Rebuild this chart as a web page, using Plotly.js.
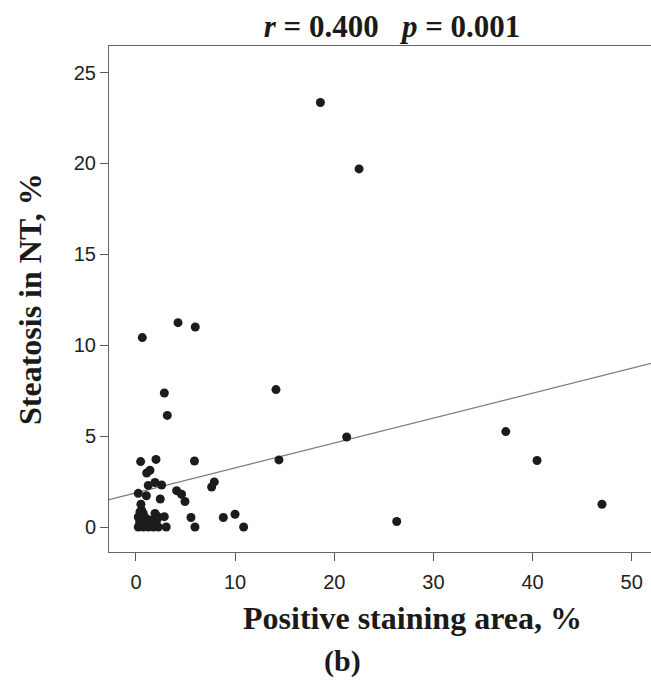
<!DOCTYPE html>
<html>
<head>
<meta charset="utf-8">
<script src="https://cdn.plot.ly/plotly-3.0.1.min.js"></script>
<style>
html, body { margin: 0; padding: 0; overflow: hidden; background: #fff; }
#chart { width: 715px; height: 685px; }
</style>
</head>
<body>
<div id="chart"></div>
<script>
// Positive staining area, %
const stainingArea = [
  18.6, 22.5, 0.64, 4.24, 5.98, 2.86, 3.16, 14.12, 21.25, 14.42,
  37.3, 40.45, 47.0, 26.3,
  0.47, 2.02, 5.9, 1.08, 1.41, 1.24, 1.92, 2.59, 0.23, 1.05,
  2.45, 4.1, 4.6, 4.94, 7.63, 7.9, 0.5, 5.55, 5.95, 8.81,
  9.99, 10.86, 3.05, 2.86, 2.02, 2.09,
  0.23, 0.74, 1.24, 1.75, 2.25, 0.23, 0.74, 1.08, 1.58, 0.57,
  0.91, 0.4, 1.92, 0.37, 1.41, 2.25
];
// Steatosis in NT, %
const steatosis = [
  23.35, 19.7, 10.42, 11.24, 11.0, 7.37, 6.14, 7.56, 4.95, 3.69,
  5.25, 3.66, 1.25, 0.3,
  3.6, 3.72, 3.63, 2.97, 3.12, 2.29, 2.45, 2.31, 1.85, 1.72,
  1.54, 2.0, 1.8, 1.4, 2.2, 2.48, 1.25, 0.52, 0.0, 0.52,
  0.7, 0.0, 0.0, 0.57, 0.64, 0.37,
  0.0, 0.0, 0.0, 0.0, 0.0, 0.55, 0.74, 0.46, 0.37, 0.92,
  0.28, 0.83, 0.74, 0.28, 0.28, 0.55
];
// Fitted regression line
const fitX = [-2.72, 58.4];
const fitY = [1.51, 9.88];

const xTicks = [0, 10, 20, 30, 40, 50];
const yTicks = [0, 5, 10, 15, 20, 25];

const titleText = '<i>r</i> = 0.400\u00a0\u00a0\u00a0<i>p</i> = 0.001';
const xTitle = 'Positive staining area, %';
const yTitle = 'Steatosis in NT, %';
const panelLabel = '(b)';

const serif = '"Liberation Serif", "Times New Roman", serif';
const sans = '"Liberation Sans", Arial, sans-serif';

const data = [
  {
    x: fitX, y: fitY, type: 'scatter', mode: 'lines',
    line: { color: '#7a7a7a', width: 1.2 },
    hoverinfo: 'skip', showlegend: false
  },
  {
    x: stainingArea, y: steatosis, type: 'scatter', mode: 'markers',
    marker: { size: 9, color: '#1c1c1c', line: { width: 0 } },
    showlegend: false
  }
];

const layout = {
  width: 715, height: 685,
  margin: { l: 109, r: 0, t: 46, b: 133 },
  paper_bgcolor: '#ffffff', plot_bgcolor: '#ffffff',
  showlegend: false,
  title: {
    text: titleText,
    font: { family: serif, size: 31, color: '#1a1a1a', weight: 'bold' },
    xref: 'container', x: 392 / 715, xanchor: 'center',
    yref: 'container', y: 1 - 26 / 685, yanchor: 'middle'
  },
  xaxis: {
    range: [-2.72, 58.4],
    tickvals: xTicks, ticktext: xTicks.map(String),
    ticks: 'outside', ticklen: 8, tickwidth: 1, tickcolor: '#555',
    showline: true, linecolor: '#666', linewidth: 1, mirror: true,
    showgrid: false, zeroline: false,
    tickfont: { family: sans, size: 20, color: '#222' },
    ticklabelstandoff: 4
  },
  yaxis: {
    range: [-1.375, 26.46],
    tickvals: yTicks, ticktext: yTicks.map(String),
    ticks: 'outside', ticklen: 8, tickwidth: 1, tickcolor: '#555',
    showline: true, linecolor: '#666', linewidth: 1, mirror: false,
    showgrid: false, zeroline: false,
    tickfont: { family: sans, size: 20, color: '#222' }
  },
  annotations: [
    {
      text: '<b>' + xTitle + '</b>', xref: 'paper', yref: 'paper',
      x: 0.5, y: (551.7 - 618) / 506, xanchor: 'center', yanchor: 'middle',
      showarrow: false, font: { family: serif, size: 32, color: '#1a1a1a' }
    },
    {
      text: '<b>' + yTitle + '</b>', xref: 'paper', yref: 'paper',
      x: (30 - 109) / 606, y: 0.5, xanchor: 'center', yanchor: 'middle',
      textangle: -90,
      showarrow: false, font: { family: serif, size: 32, color: '#1a1a1a' }
    },
    {
      text: '<b>' + panelLabel + '</b>', xref: 'paper', yref: 'paper',
      x: (342 - 109) / 606, y: (551.7 - 661) / 506, xanchor: 'center', yanchor: 'middle',
      showarrow: false, font: { family: serif, size: 30, color: '#1a1a1a' }
    }
  ]
};

Plotly.newPlot('chart', data, layout, { displayModeBar: false, staticPlot: true });
</script>
</body>
</html>
